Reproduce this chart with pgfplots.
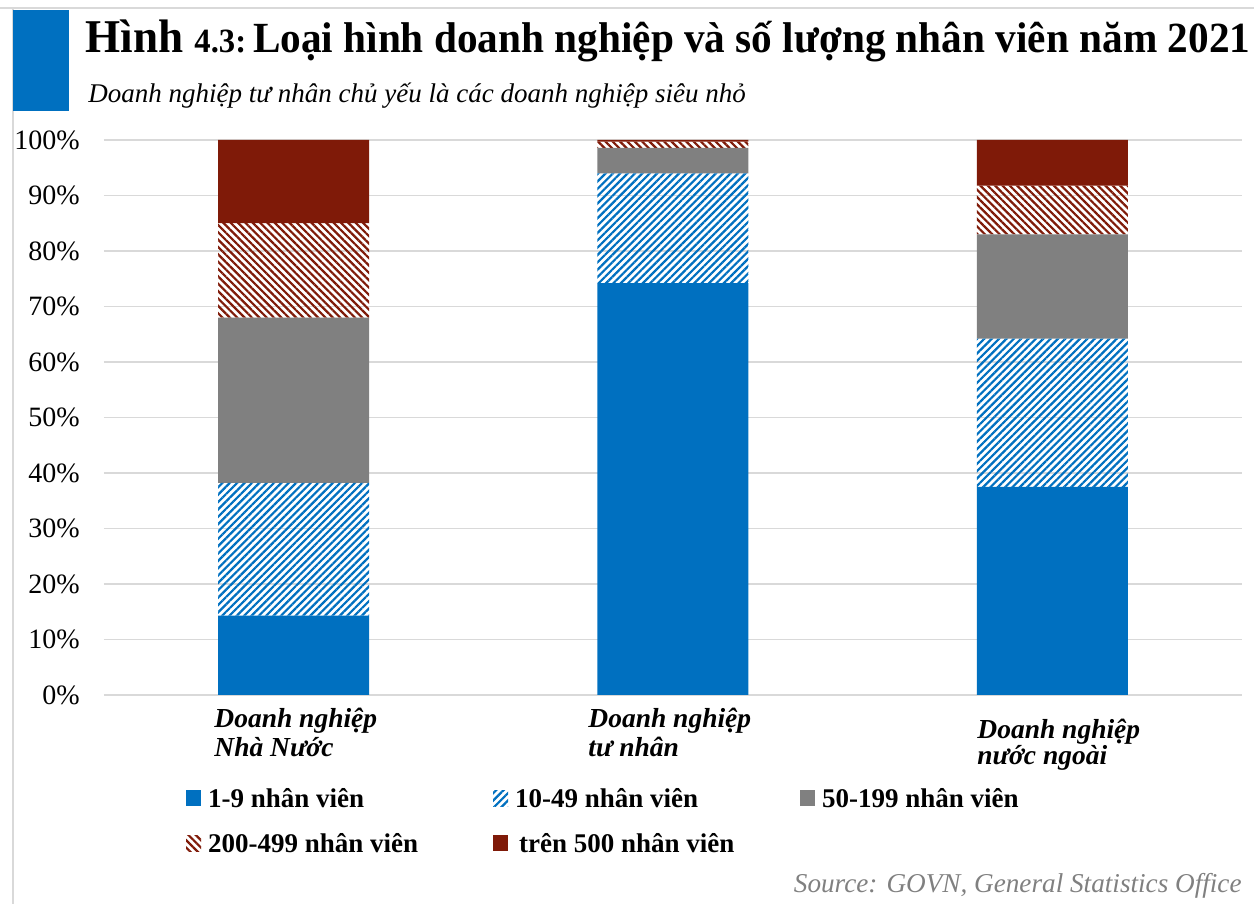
\documentclass[border=0pt]{standalone}
\usepackage{pgfplots}
\pgfplotsset{compat=1.18}
\usetikzlibrary{patterns.meta}
\usepackage{fontspec}
\setmainfont{Liberation Serif}
\definecolor{cblue}{HTML}{0070C0}
\definecolor{cred}{HTML}{7F1A08}
\definecolor{cgray}{HTML}{808080}
\definecolor{cgrid}{HTML}{D9D9D9}
\pgfplotsset{mylegend/.style={legend image code/.code={\path[##1,draw=none] (0pt,-4pt) rectangle (7.5pt,4pt);}}}
\newcommand{\lent}[1]{\makebox[146pt][l]{\hspace*{3.5pt}\strut #1}}
\begin{document}
\begin{tikzpicture}
\useasboundingbox (0,0) rectangle (627pt,452pt);
\draw[cgrid, line width=0.6pt] (0,448pt) -- (627pt,448pt);
\draw[cgrid, line width=0.6pt] (6.5pt,448pt) -- (6.5pt,0);
\fill[cblue] (6.5pt,396.5pt) rectangle (34.5pt,447pt);
\node[anchor=base west, inner sep=0pt] at (42.5pt,425.5pt) {\scalebox{0.96}[1]{\bfseries\fontsize{23.5}{26}\selectfont Hình \fontsize{17}{18}\selectfont 4.3:\fontsize{21.5}{24}\selectfont\,Loại hình doanh nghiệp và số lượng nhân viên năm 2021}};
\node[anchor=base west, inner sep=0pt] at (44pt,400.5pt) {\itshape\fontsize{13.5}{16}\selectfont Doanh nghiệp tư nhân chủ yếu là các doanh nghiệp siêu nhỏ};
\begin{axis}[
 at={(52pt,104.5pt)}, anchor=south west,
 scale only axis, width=569pt, height=277.5pt,
 ybar stacked, bar width=75.5pt,
 xmin=-0.5, xmax=2.5, ymin=0, ymax=100,
 xtick=\empty,
 ytick={0,10,...,100},
 yticklabels={0\%,10\%,20\%,30\%,40\%,50\%,60\%,70\%,80\%,90\%,100\%},
 yticklabel style={font=\fontsize{14}{16}\selectfont, inner sep=0pt, anchor=east, xshift=-12pt},
 ymajorgrids, grid style={cgrid, line width=0.6pt},
 axis line style={draw=none},
 major tick length=0pt,
 clip=false,
 legend style={draw=none, fill=none, inner sep=0pt, outer sep=0pt,
   at={(axis description cs:0.0721,-0.164)}, anchor=north west,
   font=\bfseries\fontsize{13.5}{15}\selectfont,
   nodes={inner sep=0pt},
   /tikz/row sep=10.5pt},
 legend columns=3, legend cell align=left,
]
\addplot[draw=none, fill=cblue, mylegend] coordinates {(0,14.3) (1,74.2) (2,37.5)};
\addlegendentry{\lent{1-9 nhân viên}}
\addplot[draw=none, pattern={Lines[angle=45,distance=2.6pt,line width=1.1pt]}, pattern color=cblue, mylegend] coordinates {(0,23.9) (1,19.8) (2,26.7)};
\addlegendentry{\lent{10-49 nhân viên}}
\addplot[draw=none, fill=cgray, mylegend] coordinates {(0,29.8) (1,4.6) (2,18.8)};
\addlegendentry{\lent{50-199 nhân viên}}
\addplot[draw=none, pattern={Lines[angle=-45,distance=2.6pt,line width=1.1pt]}, pattern color=cred, mylegend] coordinates {(0,17.0) (1,1.1) (2,8.8)};
\addlegendentry{\lent{200-499 nhân viên}}
\addplot[draw=none, fill=cred, mylegend] coordinates {(0,15.0) (1,0.3) (2,8.2)};
\addlegendentry{\lent{\hspace*{2pt}trên 500 nhân viên}}
\end{axis}
\begin{scope}[every node/.style={anchor=base west, inner sep=0pt, font=\bfseries\itshape\fontsize{13.75}{15}\selectfont}]
\node at (107pt,88pt) {Doanh nghiệp};
\node at (107pt,73.5pt) {Nhà Nước};
\node at (294pt,88pt) {Doanh nghiệp};
\node at (294pt,73.5pt) {tư nhân};
\node at (488.5pt,82.5pt) {Doanh nghiệp};
\node at (488.5pt,69.5pt) {nước ngoài};
\end{scope}
\node[anchor=base east, inner sep=0pt, text=cgray] at (621pt,5.5pt) {\itshape\fontsize{13.6}{15}\selectfont Source: GOVN, General Statistics Office};
\end{tikzpicture}
\end{document}
